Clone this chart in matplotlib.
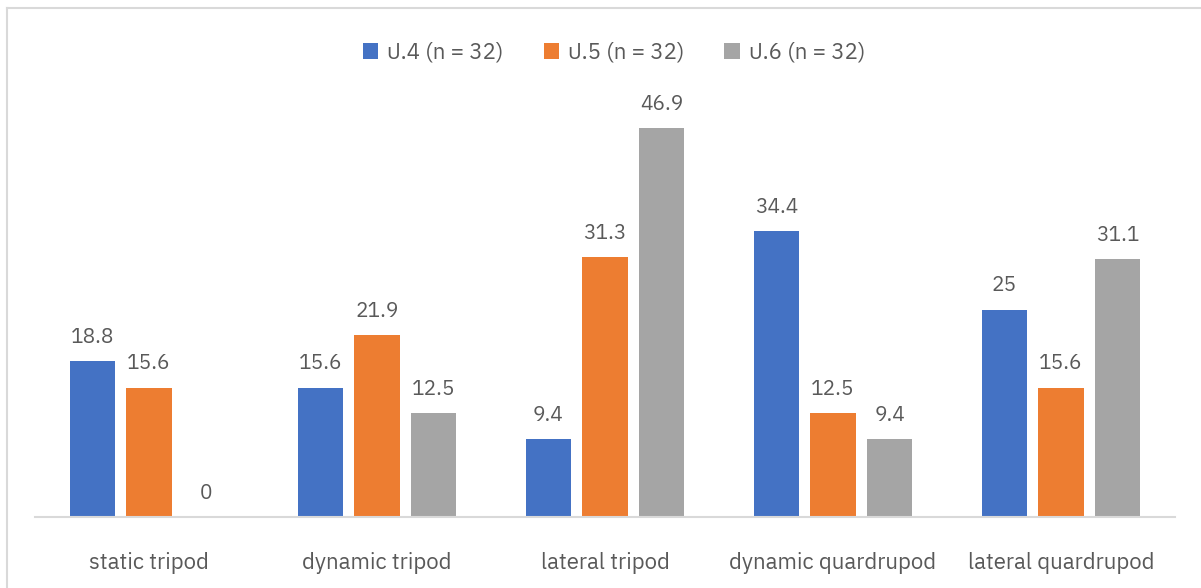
import matplotlib
matplotlib.use("Agg")
import matplotlib.pyplot as plt
import numpy as np
from matplotlib import font_manager

# data
categories = ["static tripod", "dynamic tripod", "lateral tripod",
              "dynamic quardrupod", "lateral quardrupod"]
series_names = ["ป.4 (n = 32)", "ป.5 (n = 32)", "ป.6 (n = 32)"]
p4 = [18.8, 15.6, 9.4, 34.4, 25]
p5 = [15.6, 21.9, 31.3, 12.5, 15.6]
p6 = [0, 12.5, 46.9, 9.4, 31.1]

colors = ["#4472C4", "#ED7D31", "#A5A5A5"]
text_col = "#595959"

# look for any installed font that can draw Thai
thai = [f.name for f in font_manager.fontManager.ttflist if "Thai" in f.name]
families = thai[:1] + ["DejaVu Sans"]
plt.rcParams["font.family"] = families

fig = plt.figure(figsize=(12.01, 5.88), dpi=100)
ax = fig.add_axes([35 / 1201, 71 / 588, 1140 / 1201, 415 / 588])

x = np.arange(len(categories))
bw = 0.2
gap = 0.048
offsets = [-(bw + gap), 0, bw + gap]

for vals, name, col, off in zip([p4, p5, p6], series_names, colors, offsets):
    bars = ax.bar(x + off, vals, width=bw, color=col, label=name)
    for b, v in zip(bars, vals):
        ax.text(b.get_x() + b.get_width() / 2, v + 1.7, f"{v:g}",
                ha="center", va="bottom", fontsize=15, color=text_col)

ax.set_xlim(-0.5, len(categories) - 0.5)
ax.set_ylim(0, 50)
ax.set_yticks([])
ax.set_xticks(x)
ax.set_xticklabels(categories, fontsize=16, color=text_col)
ax.tick_params(axis="x", length=0, pad=25)
for s in ["top", "right", "left"]:
    ax.spines[s].set_visible(False)
ax.spines["bottom"].set_color("#D9D9D9")
ax.spines["bottom"].set_linewidth(1.5)

leg = fig.legend(loc="center", bbox_to_anchor=(614 / 1201, 1 - 53 / 588), ncol=3,
                 frameon=False, fontsize=16, handlelength=0.7, handleheight=0.7,
                 columnspacing=1.8, handletextpad=0.4)
for t in leg.get_texts():
    t.set_color(text_col)

# light chart-area border (top and left visible in reference)
fig.add_artist(plt.Line2D([7 / 1201, 1], [1 - 8 / 588, 1 - 8 / 588],
                          color="#D9D9D9", lw=1.5, transform=fig.transFigure))
fig.add_artist(plt.Line2D([7 / 1201, 7 / 1201], [0, 1 - 8 / 588],
                          color="#D9D9D9", lw=1.5, transform=fig.transFigure))

fig.savefig("out.png", dpi=100)
